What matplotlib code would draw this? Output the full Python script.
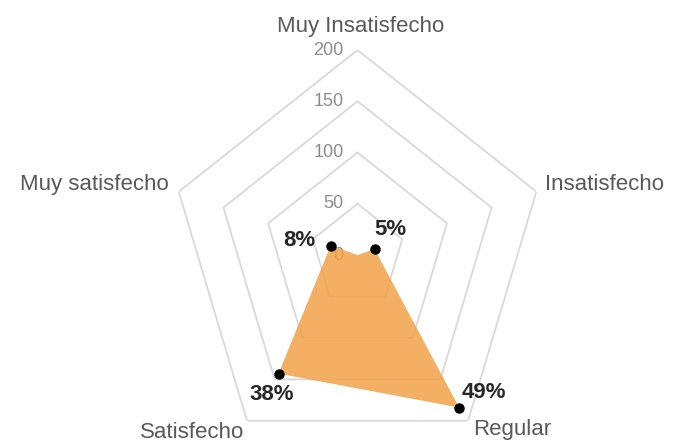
import numpy as np
import matplotlib.pyplot as plt

# data
categories = ["Muy Insatisfecho", "Insatisfecho", "Regular", "Satisfecho", "Muy satisfecho"]
counts = [0, 19, 184, 143, 30]
pct_labels = ["", "5%", "49%", "38%", "8%"]
ring_values = [0, 50, 100, 150, 200]

plt.rcParams["font.family"] = ["Liberation Sans", "DejaVu Sans"]

fig = plt.figure(figsize=(6.73, 4.43), dpi=100)
ax = fig.add_axes([0.2519, -0.0384, 0.5587, 0.9255], projection="polar")
ax.set_aspect("auto")
ax.set_theta_offset(np.pi / 2)
ax.set_theta_direction(-1)

angles = np.linspace(0, 2 * np.pi, len(categories), endpoint=False)
ang_closed = np.append(angles, angles[0])

# pentagon grid
for r in ring_values[1:]:
    ax.plot(ang_closed, [r] * len(ang_closed), color="#d9d9d9", lw=1.3, zorder=1)

# ring labels
for r in ring_values:
    ax.annotate(str(r), xy=(0, r), xytext=(-10, 0), textcoords="offset points",
                ha="right", va="center", fontsize=13, color="#8c8c8c", zorder=2)

# data polygon
vals = np.append(counts, counts[0])
ax.fill(ang_closed, vals, color="#F2A349", alpha=0.85, lw=0, zorder=3)

# markers only where there is a label
cnt = np.array(counts)
has_lab = np.array([bool(l) for l in pct_labels])
ax.plot(angles[has_lab], cnt[has_lab], "o", color="black", markersize=6.5, zorder=4)

# percentage labels
pct_offsets = [None, (0, 14, "left"), (1.5, 11, "left"), (-5, -15, "center"), (-11, 3.5, "right")]
for a, v, lab, off in zip(angles, counts, pct_labels, pct_offsets):
    if not lab:
        continue
    ax.annotate(lab, xy=(a, v), xytext=off[:2], textcoords="offset points",
                ha=off[2], va="center", fontsize=16, fontweight="bold", color="#262626", zorder=5)

# category labels
cat_offsets = [(2, 17, "center"), (6, 5, "left"), (4, -6.5, "left"), (-2, -8.6, "right"), (-7, 5, "right")]
for a, lab, off in zip(angles, categories, cat_offsets):
    ax.annotate(lab, xy=(a, 200), xytext=off[:2], textcoords="offset points",
                ha=off[2], va="center", fontsize=16, color="#595959", annotation_clip=False)

ax.set_ylim(0, 200)
ax.set_xticks([])
ax.set_yticks([])
ax.grid(False)
ax.spines["polar"].set_visible(False)
ax.patch.set_visible(False)

fig.savefig("out.png", dpi=100)
